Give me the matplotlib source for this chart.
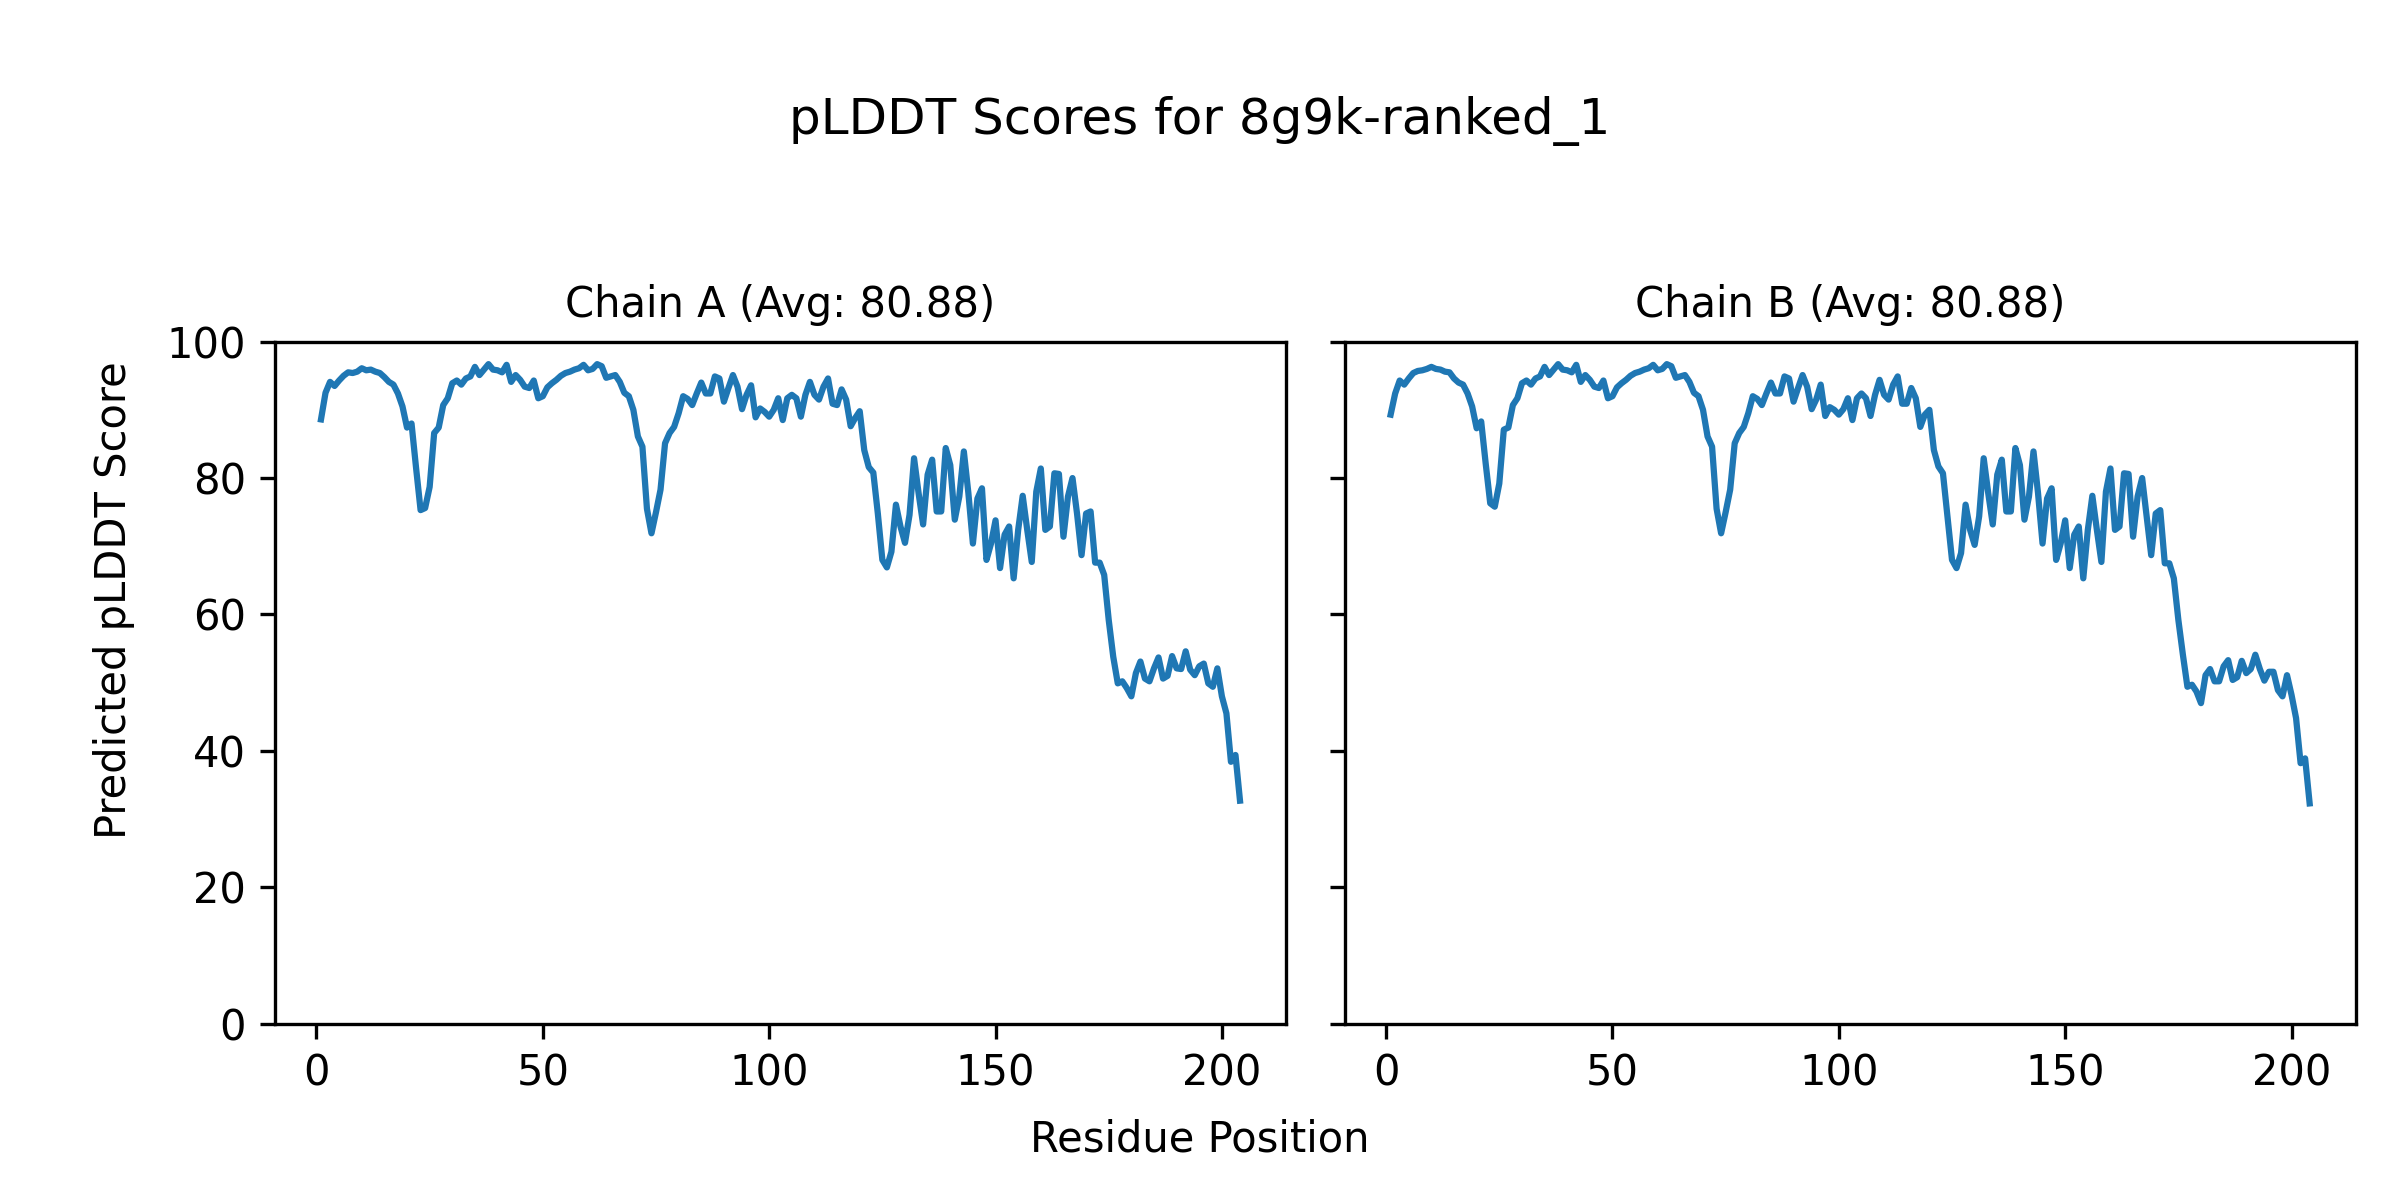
import numpy as np
import matplotlib
matplotlib.use('Agg')
import matplotlib.pyplot as plt

model_name = '8g9k-ranked_1'
chain_names = ['A', 'B']
chain_avgs = [80.88, 80.88]

chain_a = [
    88.6, 92.5, 94.1, 93.5, 94.3, 95.0, 95.5, 95.4, 95.6, 96.1,
    95.8, 95.9, 95.6, 95.4, 94.8, 94.1, 93.7, 92.4, 90.5, 87.4,
    88.0, 81.5, 75.3, 75.6, 78.7, 86.6, 87.4, 90.7, 91.7, 93.9,
    94.3, 93.7, 94.6, 94.9, 96.3, 95.1, 95.9, 96.7, 95.9, 95.8,
    95.5, 96.6, 94.1, 95.1, 94.4, 93.4, 93.2, 94.3, 91.7, 92.0,
    93.3, 93.9, 94.4, 95.0, 95.4, 95.6, 95.9, 96.1, 96.6, 95.8,
    96.0, 96.7, 96.4, 94.7, 94.9, 95.1, 94.1, 92.5, 92.0, 90.0,
    86.1, 84.6, 75.5, 71.9, 75.0, 78.3, 85.1, 86.6, 87.5, 89.5,
    92.0, 91.6, 90.7, 92.4, 94.0, 92.4, 92.4, 94.9, 94.6, 91.2,
    93.2, 95.1, 93.4, 90.1, 92.2, 93.6, 88.9, 90.2, 89.7, 89.0,
    90.0, 91.7, 88.5, 91.7, 92.2, 91.7, 89.0, 92.2, 94.1, 92.2,
    91.5, 93.4, 94.6, 90.9, 90.7, 93.0, 91.5, 87.6, 88.8, 89.8,
    84.1, 81.6, 80.8, 74.8, 68.0, 66.9, 69.2, 76.1, 72.9, 70.5,
    74.6, 82.9, 77.8, 73.2, 80.5, 82.7, 75.1, 75.1, 84.4, 81.9,
    73.9, 77.3, 83.9, 77.8, 70.4, 77.0, 78.5, 68.0, 70.4, 73.8,
    66.8, 71.7, 72.9, 65.3, 72.4, 77.4, 72.4, 67.7, 78.0, 81.4,
    72.4, 72.9, 80.7, 80.6, 71.4, 77.3, 80.0, 74.8, 68.7, 74.8,
    75.1, 67.6, 67.6, 65.8, 59.2, 53.8, 49.9, 50.2, 49.2, 48.0,
    51.4, 53.1, 50.6, 50.2, 52.1, 53.7, 50.6, 51.0, 53.9, 52.1,
    52.0, 54.6, 51.9, 51.1, 52.4, 52.8, 49.9, 49.4, 52.1, 48.0,
    45.5, 38.4, 39.4, 32.7,
]

chain_b = [
    89.3, 92.4, 94.3, 93.7, 94.6, 95.4, 95.7, 95.8, 96.0, 96.3,
    96.0, 95.9, 95.6, 95.5, 94.6, 94.0, 93.7, 92.4, 90.5, 87.3,
    88.3, 82.1, 76.3, 75.8, 79.2, 87.1, 87.4, 90.7, 91.7, 93.9,
    94.3, 93.7, 94.6, 94.9, 96.3, 95.1, 95.9, 96.7, 95.9, 95.8,
    95.5, 96.6, 94.1, 95.1, 94.4, 93.4, 93.2, 94.3, 91.7, 92.0,
    93.3, 93.9, 94.4, 95.0, 95.4, 95.6, 95.9, 96.1, 96.6, 95.8,
    96.0, 96.7, 96.4, 94.7, 94.9, 95.1, 94.1, 92.5, 92.0, 90.0,
    86.1, 84.6, 75.5, 71.9, 75.0, 78.3, 85.1, 86.6, 87.5, 89.5,
    92.0, 91.6, 90.7, 92.4, 94.0, 92.4, 92.4, 94.9, 94.6, 91.2,
    93.2, 95.1, 93.4, 90.1, 91.5, 93.7, 89.1, 90.4, 90.0, 89.3,
    90.1, 91.7, 88.5, 91.7, 92.4, 91.7, 89.1, 92.2, 94.4, 92.2,
    91.5, 93.7, 94.9, 90.9, 90.9, 93.2, 91.7, 87.5, 89.3, 90.0,
    84.1, 81.7, 80.7, 74.4, 68.0, 66.8, 69.0, 76.1, 72.4, 70.2,
    74.4, 82.9, 77.8, 73.2, 80.5, 82.7, 75.1, 75.1, 84.4, 81.9,
    73.9, 77.3, 83.9, 77.8, 70.4, 77.0, 78.5, 68.0, 70.4, 73.8,
    66.8, 71.7, 72.9, 65.3, 72.4, 77.4, 72.4, 67.7, 78.0, 81.4,
    72.4, 72.9, 80.7, 80.6, 71.4, 77.3, 80.0, 74.4, 68.7, 74.8,
    75.3, 67.5, 67.5, 65.3, 59.2, 54.1, 49.4, 49.7, 48.7, 47.0,
    51.1, 52.0, 50.2, 50.2, 52.4, 53.3, 50.4, 50.8, 53.2, 51.4,
    52.0, 54.1, 52.0, 50.3, 51.6, 51.6, 48.9, 48.0, 51.1, 48.2,
    44.8, 38.2, 38.9, 32.3,
]

chains = [chain_a, chain_b]

fig, axes = plt.subplots(1, 2, figsize=(8, 4), dpi=300, sharey=True)
plt.subplots_adjust(left=0.1146, right=0.9815, bottom=0.1469, top=0.7153, wspace=0.0581)

for ax, name, scores, avg in zip(axes, chain_names, chains, chain_avgs):
    residues = np.arange(1, len(scores) + 1)
    ax.plot(residues, scores)
    ax.set_title(f'Chain {name} (Avg: {avg:.2f})', fontsize=10)
    ax.set_ylim(0, 100)

fig.suptitle(f'pLDDT Scores for {model_name}', y=0.8883, va='baseline')
fig.text(0.5, 0.0403, 'Residue Position', ha='center', va='baseline')
fig.text(0.0475, 0.5, 'Predicted pLDDT Score', rotation=90, ha='center', va='center')

plt.savefig('out.png')
